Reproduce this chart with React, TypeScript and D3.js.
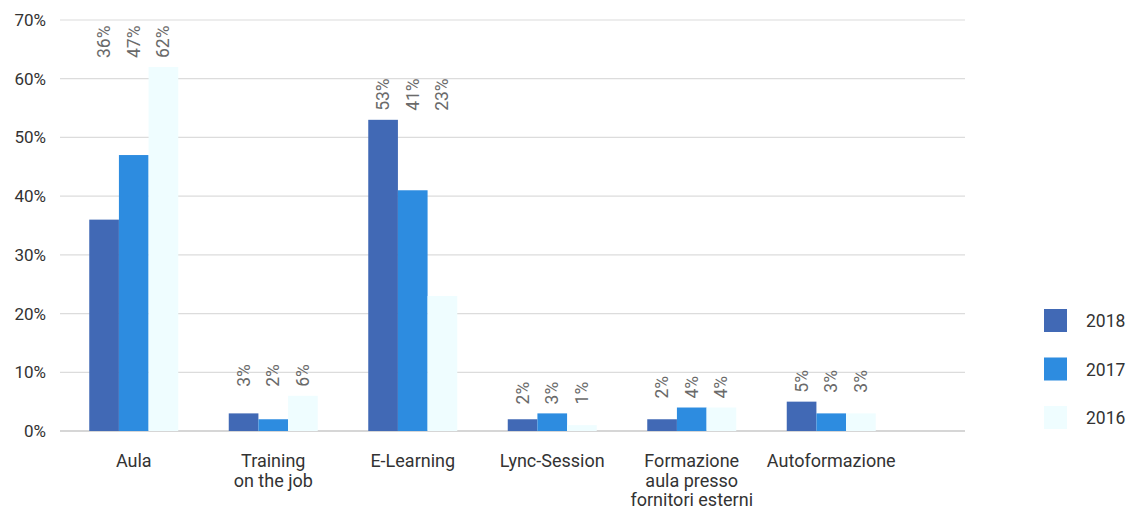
import React from "react";
import * as d3 from "d3";

// Training delivery channels, share of hours by year
const categories: string[][] = [
  ["Aula"],
  ["Training", "on the job"],
  ["E-Learning"],
  ["Lync-Session"],
  ["Formazione", "aula presso", "fornitori esterni"],
  ["Autoformazione"],
];
const seriesNames = ["2018", "2017", "2016"];
const values2018 = [36, 3, 53, 2, 2, 5];
const values2017 = [47, 2, 41, 3, 4, 3];
const values2016 = [62, 6, 23, 1, 4, 3];
const yTicks = [0, 10, 20, 30, 40, 50, 60, 70];
const colors = ["#4169b5", "#2d8ce0", "#effdff"];

const W = 1130;
const H = 512;
const FONT = "Roboto, 'Noto Sans', sans-serif";

export default function App() {
  const seriesValues = [values2018, values2017, values2016];
  const keys = categories.map((c) => c.join(" "));

  const y = d3.scaleLinear().domain([0, 70]).range([431, 20]);
  const x = d3.scaleBand<string>().domain(keys).range([64, 901]).padding(0);
  const groupW = 89;
  const xs = d3
    .scaleBand<string>()
    .domain(seriesNames)
    .range([(x.bandwidth() - groupW) / 2, (x.bandwidth() + groupW) / 2]);

  const gridX0 = 60;
  const gridX1 = 965;

  return (
    <div style={{ position: "absolute", left: 0, top: 0 }}>
      <svg width={W} height={H} style={{ display: "block", background: "#fff" }}>
        {/* horizontal gridlines and y tick labels */}
        {yTicks.map((t) => (
          <g key={t}>
            <line
              x1={gridX0}
              x2={gridX1}
              y1={y(t)}
              y2={y(t)}
              stroke={t === 0 ? "#c8c8c8" : "#dcdcdc"}
              strokeWidth={t === 0 ? 1.5 : 1.2}
            />
            <text
              x={46}
              y={y(t) + 6}
              textAnchor="end"
              fontFamily={FONT}
              fontSize={17}
              fill="#333"
            >
              {t}%
            </text>
          </g>
        ))}

        {/* bars */}
        {keys.map((k, ci) => (
          <g key={k} transform={`translate(${x(k)},0)`}>
            {seriesNames.map((s, si) => {
              const v = seriesValues[si][ci];
              return (
                <rect
                  key={s}
                  x={xs(s)}
                  y={y(v)}
                  width={xs.bandwidth()}
                  height={y(0) - y(v)}
                  fill={colors[si]}
                />
              );
            })}
          </g>
        ))}

        {/* rotated value labels, set above the tallest bar of each group */}
        {keys.map((k, ci) => {
          const maxV = d3.max(seriesValues, (sv) => sv[ci]) as number;
          const baseY = y(maxV) - 9;
          return (
            <g key={k} transform={`translate(${x(k)},0)`}>
              {seriesNames.map((s, si) => {
                const cx = (xs(s) as number) + xs.bandwidth() / 2;
                return (
                  <text
                    key={s}
                    transform={`translate(${cx + 6},${baseY}) rotate(-90)`}
                    fontFamily={FONT}
                    fontSize={17.5}
                    fill="#6a6a6a"
                  >
                    {seriesValues[si][ci]}%
                  </text>
                );
              })}
            </g>
          );
        })}

        {/* category labels */}
        {categories.map((lines, ci) => {
          const cx = (x(keys[ci]) as number) + x.bandwidth() / 2;
          return (
            <text
              key={keys[ci]}
              x={cx}
              y={467}
              textAnchor="middle"
              fontFamily={FONT}
              fontSize={18}
              fill="#333"
            >
              {lines.map((l, li) => (
                <tspan key={li} x={cx} dy={li === 0 ? 0 : 19.5}>
                  {l}
                </tspan>
              ))}
            </text>
          );
        })}

        {/* legend */}
        {seriesNames.map((s, si) => {
          const ly = 309 + si * 48.5;
          return (
            <g key={s}>
              <rect x={1044} y={ly} width={23} height={23} fill={colors[si]} />
              <text
                x={1086}
                y={ly + 18}
                fontFamily={FONT}
                fontSize={17.5}
                fill="#333"
              >
                {s}
              </text>
            </g>
          );
        })}
      </svg>
    </div>
  );
}
